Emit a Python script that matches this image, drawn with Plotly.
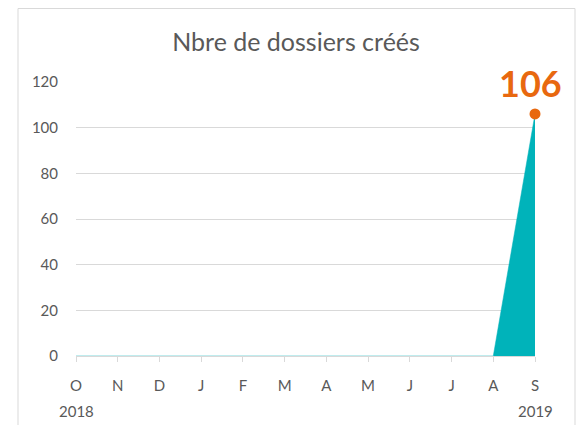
import plotly.graph_objects as go

months = ["O", "N", "D", "J", "F", "M", "A", "M", "J", "J", "A", "S"]
years = {0: "2018", 11: "2019"}
values = [0, 0, 0, 0, 0, 0, 0, 0, 0, 0, 0, 106]

x = list(range(len(months)))

TEAL = "#00B3BA"
ORANGE = "#E8680F"
GREY = "#595959"
FONT = "Lato"

W, H = 584, 425
L, R, T, B = 68, 57, 74, 77
pw, ph = W - L - R, H - T - B
def px_x(p): return (p - L) / pw
def px_y(p): return (H - B - p) / ph

fig = go.Figure()
fig.add_trace(go.Scatter(
    x=x, y=values, mode="lines", fill="tozeroy",
    line=dict(color=TEAL, width=0.5), fillcolor=TEAL, hoverinfo="skip",
))
fig.add_trace(go.Scatter(
    x=[x[-1]], y=[values[-1]], mode="markers", cliponaxis=False,
    marker=dict(color=ORANGE, size=11),
))
fig.add_annotation(
    x=x[-1], y=values[-1], text="<b>%d</b>" % values[-1], showarrow=False,
    yanchor="middle", xanchor="center", yshift=31, xshift=-5,
    font=dict(family=FONT, size=36, color=ORANGE),
)
for i, yr in years.items():
    fig.add_annotation(
        x=i, y=0, text=yr, showarrow=False, yanchor="middle", xanchor="center",
        yshift=-55, font=dict(family=FONT, size=15, color=GREY),
    )

fig.add_shape(type="rect", xref="paper", yref="paper",
              x0=px_x(10), x1=px_x(567), y0=px_y(440), y1=px_y(0.5),
              line=dict(color="#D9D9D9", width=1), layer="below")

fig.update_layout(
    width=W, height=H,
    margin=dict(l=L, r=R, t=T, b=B),
    paper_bgcolor="white", plot_bgcolor="white",
    showlegend=False,
    title=dict(text="Nbre de dossiers créés", xref="container", x=288 / W,
               xanchor="center", y=1 - 34 / H, yanchor="middle",
               font=dict(family=FONT, size=25, color=GREY)),
    font=dict(family=FONT, size=15, color=GREY),
    xaxis=dict(
        range=[0, 11], tickvals=x, ticktext=months,
        showgrid=False, zeroline=False,
        showline=True, linecolor="#D9D9D9", linewidth=1,
        ticks="outside", ticklen=5, tickcolor="#D9D9D9",
        ticklabelstandoff=11,
        tickfont=dict(family=FONT, size=15, color=GREY),
    ),
    yaxis=dict(
        range=[0, 120], tickvals=[0, 20, 40, 60, 80, 100, 120],
        showgrid=True, gridcolor="#D9D9D9", gridwidth=1,
        zeroline=False, showline=False,
        ticklabelstandoff=17,
        tickfont=dict(family=FONT, size=15, color=GREY),
    ),
)

fig.write_html("out.html")
